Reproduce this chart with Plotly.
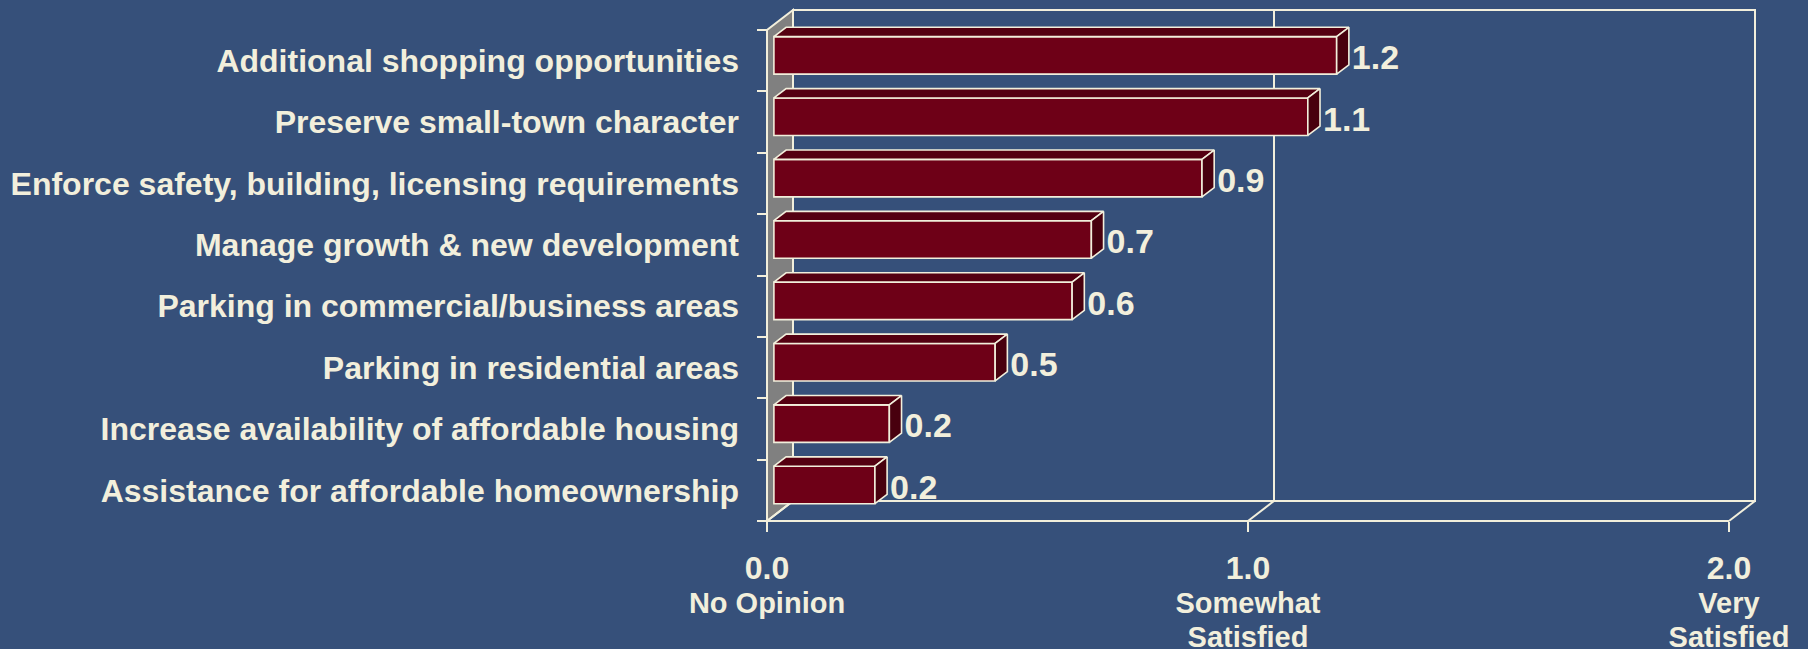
import plotly.graph_objects as go

# ---- data -------------------------------------------------------------
categories = [
    "Additional shopping opportunities",
    "Preserve small-town character",
    "Enforce safety, building, licensing requirements",
    "Manage growth & new development",
    "Parking in commercial/business areas",
    "Parking in residential areas",
    "Increase availability of affordable housing",
    "Assistance for affordable homeownership",
]
values = [1.17, 1.11, 0.89, 0.66, 0.62, 0.46, 0.24, 0.21]

x_tick_values = [0, 1, 2]
x_tick_numbers = ["0.0", "1.0", "2.0"]
x_tick_words = ["No Opinion", "Somewhat<br>Satisfied", "Very<br>Satisfied"]

# ---- style ------------------------------------------------------------
BG = "#36507A"
CREAM = "#F2EFDC"
FRONT = "#6E0017"
TOP = "#540011"
SIDE = "#48000E"
WALL = "#808080"
FONT = "Liberation Sans, Arial, sans-serif"

W, H = 1808, 649
# pixel geometry of the front plane of the 3-D frame
X0_PX, UNIT_PX = 767, 481.0          # x = 0 and pixels per value unit
FLOOR_PX, CAT_PX = 521, 61.375       # front floor line and pixels per category

# depth of the box (in data units) and of the bars inside it
DX, DY = 26 / UNIT_PX, 20 / CAT_PX
BAR_OX, BAR_OY = 6.9 / UNIT_PX, 5.35 / CAT_PX
BAR_DX, BAR_DY = 12.2 / UNIT_PX, 9.3 / CAT_PX
BAR_W = 37.5 / CAT_PX
LABEL_GAP = 3 / UNIT_PX
XMAX = 2

n = len(categories)
ypos = [n - 1 - k for k in range(n)]
y_lo, y_hi = -0.5, n - 0.5

x_range = [-X0_PX / UNIT_PX, (W - X0_PX) / UNIT_PX]
y_range = [(FLOOR_PX - H) / CAT_PX - 0.5, FLOOR_PX / CAT_PX - 0.5]

fig = go.Figure()

# ---- frame: back wall, left wall, floor --------------------------------
def path(points):
    return "M " + " L ".join(f"{x},{y}" for x, y in points) + " Z"

line = dict(color=CREAM, width=2)
shapes = [
    # back wall
    dict(type="path", path=path([(DX, y_lo + DY), (XMAX + DX, y_lo + DY),
                                 (XMAX + DX, y_hi + DY), (DX, y_hi + DY)]),
         line=line, fillcolor="rgba(0,0,0,0)"),
    # gridline at 1.0
    dict(type="line", x0=1 + DX, x1=1 + DX, y0=y_lo + DY, y1=y_hi + DY, line=line),
    # left side wall
    dict(type="path", path=path([(0, y_lo), (0, y_hi), (DX, y_hi + DY), (DX, y_lo + DY)]),
         line=line, fillcolor=WALL),
    # floor front edge
    dict(type="line", x0=0, x1=XMAX, y0=y_lo, y1=y_lo, line=line),
]
for t in x_tick_values:
    shapes.append(dict(type="line", x0=t, x1=t + DX, y0=y_lo, y1=y_lo + DY, line=line))
for s in shapes:
    s.update(xref="x", yref="y", layer="below")

# ---- bars: front faces --------------------------------------------------
bar_y = [p + BAR_OY for p in ypos]
fig.add_trace(go.Bar(
    orientation="h", y=bar_y, x=values, base=BAR_OX, width=BAR_W,
    marker=dict(color=FRONT, line=dict(color=CREAM, width=1.6)),
    hoverinfo="skip", showlegend=False,
))

# top and side faces
for v, yc in zip(values, bar_y):
    x1 = BAR_OX + v
    top, bot = yc + BAR_W / 2, yc - BAR_W / 2
    fig.add_trace(go.Scatter(
        x=[BAR_OX, x1, x1 + BAR_DX, BAR_OX + BAR_DX, BAR_OX],
        y=[top, top, top + BAR_DY, top + BAR_DY, top],
        fill="toself", fillcolor=TOP, mode="lines",
        line=dict(color=CREAM, width=1.6), hoverinfo="skip", showlegend=False,
    ))
    fig.add_trace(go.Scatter(
        x=[x1, x1 + BAR_DX, x1 + BAR_DX, x1, x1],
        y=[bot, bot + BAR_DY, top + BAR_DY, top, bot],
        fill="toself", fillcolor=SIDE, mode="lines",
        line=dict(color=CREAM, width=1.6), hoverinfo="skip", showlegend=False,
    ))

# value labels
fig.add_trace(go.Scatter(
    x=[BAR_OX + v + BAR_DX + LABEL_GAP for v in values], y=[p for p in ypos],
    mode="text", text=[f"{v:.1f}" for v in values], textposition="middle right",
    textfont=dict(family=FONT, size=34, color=CREAM, weight="bold"),
    cliponaxis=False, hoverinfo="skip", showlegend=False,
))

x_ticktext = [
    f"<span style='font-size:32px'>{num}</span><br><span style='font-size:29px'>{w}</span>"
    for num, w in zip(x_tick_numbers, x_tick_words)
]

fig.update_layout(
    width=W, height=H,
    margin=dict(l=0, r=0, t=0, b=0),
    paper_bgcolor=BG, plot_bgcolor=BG,
    shapes=shapes,
    showlegend=False,
    xaxis=dict(
        range=x_range, domain=[0, 1], anchor="free", position=1 - FLOOR_PX / H,
        showgrid=False, zeroline=False, showline=False,
        tickmode="array", tickvals=x_tick_values, ticktext=x_ticktext,
        ticks="outside", ticklen=10, tickwidth=2, tickcolor=CREAM,
        tickfont=dict(family=FONT, size=26, color=CREAM, weight="bold"),
        ticklabelstandoff=16, automargin=False, fixedrange=True,
    ),
    yaxis=dict(
        range=y_range, domain=[0, 1], anchor="free", position=X0_PX / W,
        showgrid=False, zeroline=False, showline=False,
        tickmode="array", tickvals=ypos, ticktext=categories, ticks="",
        minor=dict(tickvals=[p - 0.5 for p in range(n + 1)], ticks="outside",
                   ticklen=10, tickwidth=2, tickcolor=CREAM),
        tickfont=dict(family=FONT, size=32, color=CREAM, weight="bold"),
        ticklabelstandoff=28, automargin=False, fixedrange=True,
    ),
)

fig.write_html("out.html")
